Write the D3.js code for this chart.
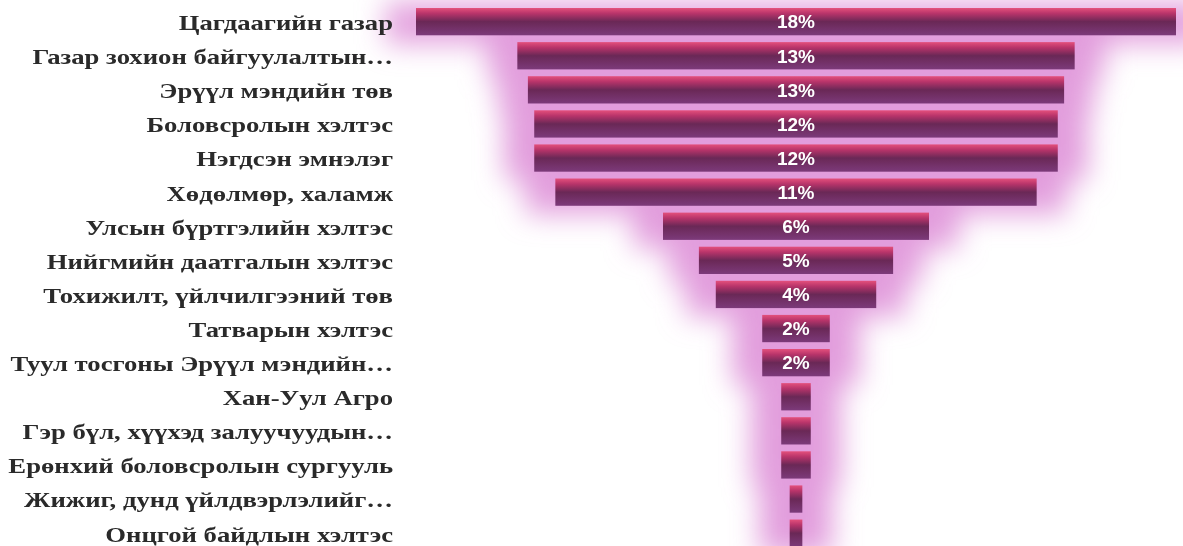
<!DOCTYPE html>
<html>
<head>
<meta charset="utf-8">
<script src="https://cdn.jsdelivr.net/npm/d3@7"></script>
<style>
  body { margin: 0; background: #fff; }
  svg { display: block; }
</style>
</head>
<body>
<svg width="1183" height="546"></svg>
<script>
let svg = d3.select("svg");
let width = +svg.attr("width");
let height = +svg.attr("height");

// categories, top to bottom
const categories = [
  "Цагдаагийн газар",
  "Газар зохион байгуулалтын…",
  "Эрүүл мэндийн төв",
  "Боловсролын хэлтэс",
  "Нэгдсэн эмнэлэг",
  "Хөдөлмөр, халамж",
  "Улсын бүртгэлийн хэлтэс",
  "Нийгмийн даатгалын хэлтэс",
  "Тохижилт, үйлчилгээний төв",
  "Татварын хэлтэс",
  "Туул тосгоны Эрүүл мэндийн…",
  "Хан-Уул Агро",
  "Гэр бүл, хүүхэд залуучуудын…",
  "Ерөнхий боловсролын сургууль",
  "Жижиг, дунд үйлдвэрлэлийг…",
  "Онцгой байдлын хэлтэс"
];
// share in percent
const values = [18, 13.2, 12.7, 12.4, 12.4, 11.4, 6.3, 4.6, 3.8, 1.6, 1.6, 0.7, 0.7, 0.7, 0.3, 0.3];

let cx = 796;
let x = d3.scaleLinear().domain([0, 18]).range([0, 760]);
let y = d3.scaleBand().domain(categories).range([4.6, 550.2]).paddingInner(0.2).paddingOuter(0.1);

let defs = svg.append("defs");
let grad = defs.append("linearGradient")
    .attr("id", "bar").attr("x1", 0).attr("y1", 0).attr("x2", 0).attr("y2", 1);
grad.append("stop").attr("offset", "0%").attr("stop-color", "#e4507c");
grad.append("stop").attr("offset", "20%").attr("stop-color", "#b8346a");
grad.append("stop").attr("offset", "50%").attr("stop-color", "#6a2856");
grad.append("stop").attr("offset", "100%").attr("stop-color", "#7c3a7a");

defs.append("filter").attr("id", "glow")
    .attr("x", "-30%").attr("y", "-30%").attr("width", "160%").attr("height", "160%")
  .append("feGaussianBlur").attr("stdDeviation", 14);

// pink halo behind the funnel
svg.append("g")
    .attr("filter", "url(#glow)")
  .selectAll("rect")
  .data(values)
  .enter().append("rect")
    .attr("x", d => cx - x(d) / 2 - 30)
    .attr("y", (d, i) => y(categories[i]) - 6)
    .attr("width", d => x(d) + 60)
    .attr("height", y.step() + 8)
    .attr("fill", "#de90d8")
    .attr("opacity", 0.85);

svg.append("g")
  .selectAll("rect")
  .data(values)
  .enter().append("rect")
    .attr("x", d => cx - x(d) / 2)
    .attr("y", (d, i) => y(categories[i]))
    .attr("width", d => x(d))
    .attr("height", y.bandwidth())
    .attr("fill", "url(#bar)");

// category labels (wide bold serif)
let sx = 1.27;
svg.append("g")
    .attr("transform", `translate(393,0) scale(${sx},1)`)
  .selectAll("text")
  .data(categories)
  .enter().append("text")
    .attr("x", 0)
    .attr("y", d => y(d) + y.bandwidth() / 2)
    .attr("dy", "0.4em")
    .attr("text-anchor", "end")
    .style("font-family", "'Liberation Serif', 'DejaVu Serif', serif")
    .style("font-weight", "bold")
    .style("font-size", "21px")
    .style("fill", "#2a2a2a")
    .text(d => d);

// value labels
svg.append("g")
  .selectAll("text")
  .data(values.filter(v => v >= 1))
  .enter().append("text")
    .attr("x", cx)
    .attr("y", (d, i) => y(categories[i]) + y.bandwidth() / 2)
    .attr("dy", "0.36em")
    .attr("text-anchor", "middle")
    .style("font-family", "'Liberation Sans', Arial, sans-serif")
    .style("font-weight", "bold")
    .style("font-size", "19px")
    .style("fill", "#fff")
    .text(d => Math.round(d) + "%");
</script>
</body>
</html>
